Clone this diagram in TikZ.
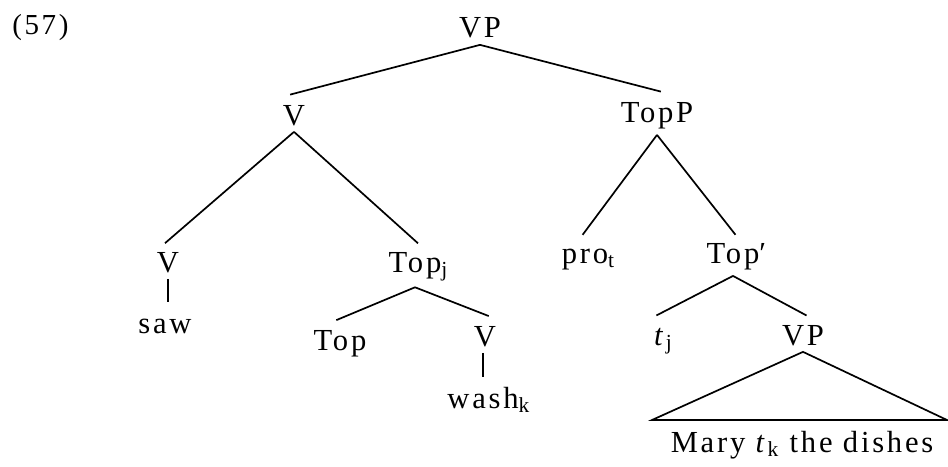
\documentclass[tikz,border=0pt]{standalone}
\usepackage{fontspec}
\setmainfont{Liberation Serif}[LetterSpace=9]
\begin{document}
\begin{tikzpicture}[x=0.5pt,y=-0.5pt,
  tn/.style={anchor=base, inner sep=3pt, text height=12.5pt, font=\fontsize{15.3pt}{18pt}\selectfont},
  br/.style={line width=0.85pt, shorten >=-2pt},
  st/.style={line width=0.85pt}]
\useasboundingbox (0,0) rectangle (948,466);
\node[anchor=base west, inner sep=0pt, font=\fontsize{14.5pt}{17pt}\selectfont] (ex) at (12,34) {(57)};
\node[tn] (VP1) at (480,38) {VP};
\node[tn] (V1) at (294,125) {V};
\node[tn] (TopP) at (657,122) {TopP};
\node[tn] (V2) at (168,272) {V};
\node[tn] (saw) at (165,333) {saw};
\node[tn] (Topj) at (415,272) {Top\rlap{\textsubscript{j}}};
\node[tn] (prot) at (585,263) {pro\rlap{\textsubscript{t}}};
\node[tn] (Topp) at (733,263) {Top\rlap{′}};
\node[tn] (Top) at (340,350) {Top};
\node[tn] (V3) at (485,346) {V};
\node[tn] (wash) at (483,408) {wash\rlap{\textsubscript{k}}};
\node[tn] (tj) at (660,345) {\textit{t}\rlap{\textsubscript{j}}};
\node[tn] (VP2) at (803,345) {VP};
\node[tn] (Mary) at (802,452) {Mary \textit{t}\textsubscript{k} the dishes};
\coordinate (tl) at (652,420);
\coordinate (tr) at (947,420);
\draw[br] (VP1.south) -- (V1.north);
\draw[br] (VP1.south) -- (TopP.north);
\draw[br] (V1.south) -- (V2.north);
\draw[br] (V1.south) -- (Topj.north);
\draw[br] (TopP.south) -- (prot.north);
\draw[br] (TopP.south) -- (Topp.north);
\draw[br] (Topj.south) -- (Top.north);
\draw[br] (Topj.south) -- (V3.north);
\draw[br] (Topp.south) -- (tj.north);
\draw[br] (Topp.south) -- (VP2.north);
\draw[st] (V2.south) -- (V2.south |- saw.north);
\draw[st] (wash.north |- V3.south) -- (wash.north);
\draw[st] (VP2.south) -- (tl) -- (tr) -- cycle;
\end{tikzpicture}
\end{document}
